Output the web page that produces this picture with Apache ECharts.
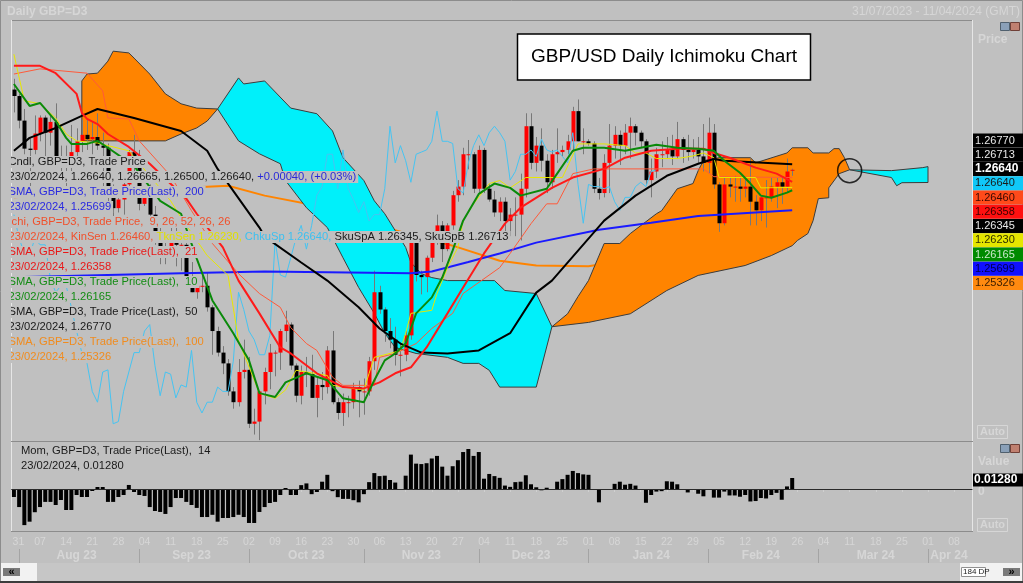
<!DOCTYPE html>
<html><head><meta charset="utf-8">
<script src="https://cdn.jsdelivr.net/npm/echarts/dist/echarts.min.js"></script>
<style>html,body{margin:0;padding:0;background:#c0c0c0;overflow:hidden}#c{width:1023px;height:583px}</style>
</head><body><div id="c"></div><script>
// ---------------- DATA ----------------
const openP = [1.2850,1.2835,1.2778,1.2713,1.2710, 1.2748,1.2785,1.2750,1.2775,1.2693, 1.2690,1.2685,1.2705,1.2730,1.2745, 1.2735,1.2740,1.2720,1.2715,1.2600,
 1.2575,1.2595,1.2630,1.2705,1.2670, 1.2585,1.2625,1.2560,1.2505,1.2470, 1.2465,1.2505,1.2490,1.2490,1.2410, 1.2380,1.2395,1.2395,1.2345,1.2290,
 1.2240,1.2215,1.2150,1.2125,1.2195, 1.2200,1.2075,1.2080,1.2150,1.2195, 1.2240,1.2240,1.2290,1.2305,1.2210, 1.2140,1.2195,1.2190,1.2135,1.2165,
 1.2160,1.2245,1.2125,1.2100,1.2125, 1.2125,1.2160,1.2150,1.2150,1.2220, 1.2380,1.2340,1.2290,1.2270,1.2235, 1.2235,1.2280,1.2500,1.2420,1.2415,
 1.2460,1.2505,1.2535,1.2480,1.2535, 1.2605,1.2625,1.2700,1.2700,1.2620, 1.2710,1.2620,1.2595,1.2565,1.2590, 1.2545,1.2560,1.2560,1.2620,1.2765,
 1.2680,1.2720,1.2685,1.2635,1.2700, 1.2705,1.2710,1.2730,1.2800,1.2730, 1.2730,1.2725,1.2620,1.2610,1.2680, 1.2720,1.2745,1.2720,1.2750,1.2765,
 1.2750,1.2730,1.2640,1.2660,1.2700, 1.2700,1.2710,1.2695,1.2735,1.2710, 1.2705,1.2710,1.2695,1.2680,1.2750, 1.2630,1.2540,1.2630,1.2625,1.2625,
 1.2620,1.2625,1.2590,1.2570,1.2600, 1.2600,1.2625,1.2635,1.2625,1.2664];
const highP = [1.2875,1.2840,1.2805,1.2738,1.2790, 1.2790,1.2790,1.2790,1.2818,1.2720, 1.2720,1.2768,1.2760,1.2780,1.2780, 1.2775,1.2795,1.2750,1.2725,1.2630,
 1.2605,1.2650,1.2710,1.2745,1.2710, 1.2625,1.2630,1.2580,1.2530,1.2495, 1.2535,1.2545,1.2505,1.2500,1.2450, 1.2410,1.2425,1.2425,1.2350,1.2300,
 1.2255,1.2225,1.2160,1.2225,1.2270, 1.2230,1.2110,1.2150,1.2205,1.2260, 1.2245,1.2295,1.2337,1.2310,1.2215, 1.2210,1.2230,1.2235,1.2185,1.2195,
 1.2255,1.2290,1.2135,1.2145,1.2140, 1.2170,1.2175,1.2180,1.2230,1.2430, 1.2395,1.2345,1.2320,1.2300,1.2260, 1.2290,1.2505,1.2505,1.2430,1.2465,
 1.2510,1.2560,1.2545,1.2540,1.2615, 1.2640,1.2715,1.2733,1.2705,1.2720, 1.2715,1.2630,1.2615,1.2600,1.2600, 1.2575,1.2600,1.2655,1.2795,1.2795,
 1.2740,1.2760,1.2700,1.2710,1.2760, 1.2720,1.2745,1.2810,1.2827,1.2760, 1.2735,1.2730,1.2645,1.2700,1.2770, 1.2765,1.2755,1.2770,1.2785,1.2770,
 1.2755,1.2735,1.2690,1.2715,1.2730, 1.2740,1.2745,1.2775,1.2740,1.2745, 1.2735,1.2740,1.2770,1.2785,1.2770, 1.2635,1.2645,1.2645,1.2650,1.2645,
 1.2645,1.2690,1.2605,1.2605,1.2640, 1.2645,1.2645,1.2645,1.2690,1.26665];
const lowP = [1.2797,1.2760,1.2700,1.2620,1.2700, 1.2730,1.2690,1.2720,1.2690,1.2660, 1.2618,1.2660,1.2690,1.2705,1.2710, 1.2700,1.2710,1.2615,1.2590,1.2548,
 1.2565,1.2560,1.2610,1.2650,1.2570, 1.2580,1.2545,1.2490,1.2445,1.2445, 1.2460,1.2440,1.2430,1.2390,1.2380, 1.2365,1.2380,1.2335,1.2235,1.2231,
 1.2190,1.2140,1.2110,1.2115,1.2180, 1.2065,1.2050,1.2037,1.2120,1.2155, 1.2185,1.2200,1.2265,1.2200,1.2125, 1.2120,1.2160,1.2135,1.2090,1.2130,
 1.2145,1.2120,1.2085,1.2070,1.2090, 1.2110,1.2090,1.2096,1.2140,1.2200, 1.2330,1.2265,1.2250,1.2210,1.2185, 1.2220,1.2270,1.2405,1.2375,1.2380,
 1.2450,1.2490,1.2450,1.2475,1.2525, 1.2590,1.2605,1.2665,1.2610,1.2610, 1.2610,1.2590,1.2555,1.2545,1.2500, 1.2510,1.2510,1.2500,1.2600,1.2665,
 1.2660,1.2660,1.2610,1.2620,1.2680, 1.2695,1.2700,1.2705,1.2730,1.2700, 1.2720,1.2610,1.2595,1.2600,1.2610, 1.2690,1.2675,1.2700,1.2690,1.2720,
 1.2715,1.2630,1.2600,1.2645,1.2670, 1.2690,1.2675,1.2690,1.2680,1.2685, 1.2690,1.2680,1.2660,1.2655,1.2620, 1.2520,1.2535,1.2600,1.2590,1.2590,
 1.2600,1.2535,1.2535,1.2545,1.2530, 1.2590,1.2575,1.2585,1.2610,1.2650];
const closeP = [1.2835,1.2778,1.2713,1.2710,1.2748, 1.2785,1.2750,1.2775,1.2693,1.2690, 1.2685,1.2705,1.2730,1.2745,1.2735, 1.2740,1.2720,1.2715,1.2600,1.2575,
 1.2595,1.2630,1.2705,1.2670,1.2585, 1.2625,1.2560,1.2505,1.2470,1.2465, 1.2505,1.2490,1.2490,1.2410,1.2380, 1.2395,1.2395,1.2345,1.2290,1.2240,
 1.2215,1.2150,1.2125,1.2195,1.2200, 1.2075,1.2080,1.2150,1.2195,1.2240, 1.2240,1.2290,1.2305,1.2210,1.2140, 1.2195,1.2190,1.2135,1.2165,1.2160,
 1.2245,1.2125,1.2100,1.2125,1.2125, 1.2160,1.2150,1.2150,1.2220,1.2380, 1.2340,1.2290,1.2270,1.2235,1.2235, 1.2280,1.2500,1.2420,1.2415,1.2460,
 1.2505,1.2535,1.2480,1.2535,1.2605, 1.2625,1.2700,1.2700,1.2620,1.2710, 1.2620,1.2595,1.2565,1.2590,1.2545, 1.2560,1.2560,1.2620,1.2765,1.2680,
 1.2720,1.2685,1.2635,1.2700,1.2705, 1.2710,1.2730,1.2800,1.2730,1.2730, 1.2725,1.2620,1.2610,1.2680,1.2720, 1.2745,1.2720,1.2750,1.2765,1.2750,
 1.2730,1.2640,1.2660,1.2700,1.2700, 1.2710,1.2695,1.2735,1.2710,1.2705, 1.2710,1.2695,1.2680,1.2750,1.2630, 1.2540,1.2630,1.2625,1.2625,1.2620,
 1.2625,1.2590,1.2570,1.2600,1.2600, 1.2625,1.2635,1.2625,1.2660,1.2664];

// indicator lines: [day index, value] vertices
const sma10 = [[0,1.2863],[3,1.2812],[5,1.2819],[8,1.2777],[10,1.2738],[11,1.2724],[14,1.2724],[16,1.2731],[18,1.2715],[23,1.2673],[28,1.2592],[32,1.2562],[35,1.2458],[38,1.2361],[42,1.2285],[45,1.2222],[47,1.2146],[50,1.2137],[52,1.2171],[56,1.2192],[60,1.2176],[63,1.2134],[67,1.2125],[69,1.2176],[71,1.2222],[73,1.2238],[75,1.2261],[77,1.2331],[80,1.2368],[82,1.2414],[84,1.2477],[86,1.2546],[89,1.2608],[92,1.2632],[95,1.2622],[97,1.2604],[102,1.2620],[104,1.2655],[107,1.2708],[109,1.2715],[113,1.2715],[117,1.2708],[120,1.2715],[123,1.2722],[127,1.2715],[131,1.2713],[134,1.2708],[136,1.2685],[139,1.2657],[141,1.2632],[143,1.2604],[145,1.2599],[148,1.2611],[149,1.26165]];
const sma21 = [[0,1.2905],[5,1.2905],[8,1.2888],[12,1.2840],[13,1.2796],[14,1.2782],[16,1.2770],[18,1.2747],[22,1.2717],[26,1.2678],[33,1.2597],[35,1.2562],[40,1.2484],[43,1.2407],[47,1.2331],[51,1.2252],[53,1.2238],[58,1.2192],[63,1.2160],[67,1.2157],[70,1.2171],[73,1.2192],[76,1.2206],[79,1.2252],[83,1.2331],[86,1.2391],[90,1.2470],[94,1.2539],[97,1.2576],[103,1.2622],[107,1.2646],[113,1.2666],[117,1.2692],[122,1.2708],[127,1.2713],[132,1.2713],[134,1.2703],[137,1.2692],[142,1.2669],[146,1.2655],[149,1.26358]];
const sma50 = [[0,1.2708],[3,1.2738],[8,1.2761],[13,1.2789],[16,1.2805],[23,1.2784],[32,1.2754],[37,1.2708],[39,1.2666],[47,1.2530],[48,1.2509],[55,1.2449],[60,1.2407],[66,1.2345],[70,1.2296],[74,1.2261],[78,1.2240],[83,1.2238],[89,1.2245],[95,1.2285],[100,1.2379],[103,1.2407],[113,1.2546],[119,1.2604],[125,1.2650],[131,1.2678],[134,1.2689],[136,1.2685],[149,1.26770]];
const sma100 = [[0,1.2600],[20,1.2615],[41,1.2627],[48,1.2604],[60,1.2576],[71,1.2530],[84,1.2488],[93,1.2453],[100,1.2442],[110,1.2440],[125,1.2470],[140,1.2515],[149,1.25326]];
const sma200 = [[0,1.2415],[32,1.2424],[48,1.2428],[76,1.2424],[80,1.2428],[87,1.2450],[93,1.2470],[100,1.2495],[112,1.2525],[122,1.2541],[131,1.2557],[149,1.25699]];
const tenkan = [[0,1.2932],[2,1.2824],[5,1.2817],[8,1.2784],[10,1.2747],[12,1.2731],[16,1.2726],[22,1.2708],[30,1.2592],[32,1.2553],[37,1.2465],[41,1.2419],[43,1.2268],[47,1.2146],[50,1.2134],[52,1.2153],[54,1.2199],[60,1.2187],[61,1.2164],[67,1.2153],[68,1.2192],[69,1.2229],[72,1.2238],[74,1.2245],[75,1.2285],[76,1.2331],[80,1.2338],[81,1.2377],[83,1.2437],[85,1.2484],[86,1.2546],[88,1.2585],[91,1.2632],[93,1.2639],[95,1.2622],[98,1.2646],[105,1.2646],[108,1.2724],[113,1.2724],[117,1.2720],[119,1.2703],[121,1.2703],[123,1.2690],[127,1.2690],[130,1.2696],[132,1.2703],[134,1.2692],[135,1.2646],[142,1.2646],[143,1.2622],[149,1.26230]];
const kijun = [[0,1.2886],[5,1.2898],[14,1.2888],[17,1.2847],[18,1.2784],[22,1.2782],[24,1.2731],[30,1.2650],[34,1.2569],[38,1.2493],[43,1.2423],[47,1.2377],[51,1.2345],[53,1.2298],[56,1.2261],[58,1.2245],[61,1.2183],[63,1.2164],[69,1.2164],[70,1.2229],[73,1.2238],[77,1.2261],[80,1.2296],[84,1.2331],[86,1.2377],[93,1.2437],[95,1.2470],[99,1.2539],[102,1.2585],[104,1.2585],[107,1.2655],[111,1.2666],[132,1.2666],[134,1.2648],[149,1.26460]];
// Ichimoku cloud pieces (Senkou spans, already shifted 26 days ahead)
const cloudOrangeAug = {top:[[13,1.2870],[14,1.2886],[16,1.2888],[18,1.2916],[19,1.2939],[22,1.2935],[23,1.2923],[26,1.2886],[29,1.2840],[32,1.2817],[35,1.2807],[39,1.2805]],
                        bottom:[[13,1.2731],[29,1.2731],[32,1.2747],[35,1.2761],[37,1.2777],[39,1.2805]]};
const cloudCyanOct = {top:[[39,1.2805],[43,1.2877],[44,1.2863],[48,1.2870],[53,1.2807],[58,1.2794],[61,1.2754],[63,1.2692],[67,1.2639],[69,1.2592],[71,1.2562],[73,1.2523],[75,1.2484],[76,1.2449],[78,1.2423],[80,1.2414],[83,1.2407],[92,1.2407],[94,1.2384],[100,1.2377],[103,1.2300]],
                      bottom:[[39,1.2805],[43,1.2731],[47,1.2701],[51,1.2678],[52,1.2639],[56,1.2576],[60,1.2530],[63,1.2460],[66,1.2391],[69,1.2331],[71,1.2285],[73,1.2252],[77,1.2238],[83,1.2229],[86,1.2215],[89,1.2215],[91,1.2199],[93,1.2160],[100,1.2160],[103,1.2300]]};
const cloudOrangeJan = {top:[[103,1.2300],[106,1.2330],[108,1.2370],[110,1.2407],[113,1.2493],[116,1.2493],[118,1.2516],[123,1.2562],[124,1.2569],[127,1.2620],[130,1.2632],[131,1.2662],[132,1.2685],[135,1.2692],[141,1.2692],[142,1.2680],[148,1.2703],[149,1.2715],[152,1.2715],[153,1.2703],[156,1.2703],[157,1.2713],[158,1.2713],[159,1.2692],[160,1.2664]],
                        bottom:[[103,1.2300],[110,1.2310],[118,1.2330],[125,1.2384],[131,1.2419],[140,1.2442],[145,1.2465],[149,1.2488],[150,1.2500],[152,1.2516],[153,1.2546],[154,1.2597],[156,1.2599],[156,1.2622],[158,1.2655],[160,1.2664]]};
const cloudCyanMar = {top:[[160,1.2664],[168,1.2662],[174,1.2669],[175,1.26713]],
                      bottom:[[160,1.2664],[168,1.2646],[169,1.2627],[170,1.2634],[175,1.26345]]};
const momentum = [-0.0093,-0.0210,-0.0420,-0.0380,-0.0270,-0.0210,-0.0150,-0.0150,-0.0186,-0.0128,
 -0.0244,-0.0244,-0.0070,-0.0093,-0.0093,-0.0023,0.0023,0.0023,-0.0150,-0.0150,
 -0.0093,-0.0070,0.0047,-0.0035,-0.0070,-0.0081,-0.0210,-0.0256,-0.0267,-0.0290,
 -0.0210,-0.0105,-0.0105,-0.0150,-0.0186,-0.0220,-0.0326,-0.0326,-0.0300,-0.0380,
 -0.0337,-0.0337,-0.0326,-0.0300,-0.0326,-0.0395,-0.0395,-0.0267,-0.0210,-0.0163,
 -0.0150,-0.0070,0.0012,-0.0070,-0.0070,0.0045,0.0065,-0.0060,-0.0035,0.0085,
 0.0165,-0.0025,-0.0095,-0.0115,-0.0115,-0.0130,-0.0155,-0.0060,0.0080,0.0185,
 0.0150,0.0155,0.0105,0.0075,-0.0010,0.0155,0.0400,0.0295,0.0290,0.0300,
 0.0355,0.0385,0.0260,0.0155,0.0265,0.0335,0.0430,0.0465,0.0385,0.0430,
 0.0120,0.0175,0.0150,0.0130,0.0040,0.0025,0.0080,0.0085,0.0160,0.0055,
 0.0020,-0.0015,0.0015,-0.0010,0.0085,0.0115,0.0165,0.0210,0.0185,0.0170,
 0.0165,0.0000,-0.0155,0.0000,0.0000,0.0060,0.0085,0.0050,0.0060,0.0040,
 0.0000,-0.0160,-0.0070,-0.0030,-0.0025,0.0090,0.0085,0.0055,-0.0010,-0.0040,
 -0.0010,-0.0055,-0.0085,0.0000,-0.0100,-0.0100,-0.0030,-0.0075,-0.0075,-0.0090,
 -0.0070,-0.0145,-0.0140,-0.0105,-0.0110,-0.0070,-0.0045,-0.0125,0.0030,0.0128];
const chikouShift = 26;
const dayTickLabels = ['31','07','14','21','28','04','11','18','25','02','09','16','23','30','06','13','20','27','04','11','18','25','01','08','15','22','29','05','12','19','26','04','11','18','25','01','08'];
const monthNames = ['Aug 23','Sep 23','Oct 23','Nov 23','Dec 23','Jan 24','Feb 24','Mar 24','Apr 24'];
const monthLabelIdx = [12,34,56,78,99,122,143,165,179];
const monthStartIdx = [1,24,45,67,89,110,133,154,175];
const crossMark = [[160,1.2662]];
const lastValueLabels = [
 ['1.26770','#000000','#e8e8e8',false],['1.26713','#000000','#e8e8e8',false],['1.26640','#000000','#ffffff',true],
 ['1.26640','#10c8f8','#1a1a1a',false],['1.26460','#ff4a1a','#3a0800',false],['1.26358','#ff1010','#3a0000',false],
 ['1.26345','#000000','#e8e8e8',false],['1.26230','#e6e600','#303000',false],['1.26165','#008a00','#c8e8c8',false],
 ['1.25699','#1010ff','#000050',false],['1.25326','#ff8a10','#402000',false]];
const legendRows = [
 [['Cndl, GBP=D3, Trade Price','#1a1a1a']],
 [['23/02/2024, 1.26640, 1.26665, 1.26500, 1.26640, ','#1a1a1a'],['+0.00040, (+0.03%)','#2a2ad8']],
 [['SMA, GBP=D3, Trade Price(Last),  200','#2a2ae0']],
 [['23/02/2024, 1.25699','#2a2ae0']],
 [['Ichi, GBP=D3, Trade Price,  9, 26, 52, 26, 26','#f0502c']],
 [['23/02/2024, KinSen 1.26460, ','#f0502c'],['TknSen 1.26230, ','#e0e000'],['ChkuSp 1.26640, ','#3cc0f0'],['SkuSpA 1.26345, SkuSpB 1.26713','#1a1a1a']],
 [['SMA, GBP=D3, Trade Price(Last),  21','#e81818']],
 [['23/02/2024, 1.26358','#e81818']],
 [['SMA, GBP=D3, Trade Price(Last),  10','#148c14']],
 [['23/02/2024, 1.26165','#148c14']],
 [['SMA, GBP=D3, Trade Price(Last),  50','#1a1a1a']],
 [['23/02/2024, 1.26770','#1a1a1a']],
 [['SMA, GBP=D3, Trade Price(Last),  100','#f08c20']],
 [['23/02/2024, 1.25326','#f08c20']]];

// ---------------- BUILD ----------------
const NCAT = 184;
const cats = [];
{ const d = new Date(Date.UTC(2023,6,31));
  while (cats.length < NCAT) { const w = d.getUTCDay(); if (w !== 0 && w !== 6) cats.push(d.toISOString().slice(0,10)); d.setUTCDate(d.getUTCDate()+1); } }
const candleData = openP.map((o,i) => [i, o, closeP[i], lowP[i], highP[i]]);
const chikou = closeP.map((c,i) => [i - chikouShift, c]).filter(p => p[0] >= 0);
const clouds = [[cloudOrangeAug,'#ff8400'],[cloudCyanOct,'#00f0fa'],[cloudOrangeJan,'#ff8400'],[cloudCyanMar,'#00f0fa']];
const BG = '#c0c0c0', FAINT = '#d6d6d6', FONT = '"Liberation Sans", Arial, sans-serif';
const GL = 11.3, GR = 1023 - 972.4;

function lineSeries(name, data, color, width, z) {
  return {name, type:'line', xAxisIndex:0, yAxisIndex:0, data, symbol:'none', silent:true, z,
    lineStyle:{color, width}, animation:false};
}
const series = [
  lineSeries('SMA100', sma100, '#ff8400', 2, 1),
  {type:'custom', xAxisIndex:0, yAxisIndex:0, z:2, silent:true, animation:false,
   data: clouds.map((c,k) => [k]),
   renderItem: (params, api) => {
     const c = clouds[params.dataIndex];
     const pts = c[0].top.concat(c[0].bottom.slice().reverse()).map(v => api.coord(v));
     return {type:'polygon', shape:{points:pts}, style:{fill:c[1], stroke:'#3c3c3c', lineWidth:1}};
   }},
  {type:'custom', xAxisIndex:0, yAxisIndex:0, z:3, silent:true, animation:false,
   data: candleData, encode:{x:0, y:[1,2,3,4]},
   renderItem: (params, api) => {
     const i = api.value(0), o = api.value(1), c = api.value(2), l = api.value(3), h = api.value(4);
     const pO = api.coord([i,o]), pC = api.coord([i,c]), pL = api.coord([i,l]), pH = api.coord([i,h]);
     const cx = Math.round(pO[0]);
     const top = Math.min(pO[1], pC[1]), bot = Math.max(pO[1], pC[1]);
     return {type:'group', children:[
       {type:'line', shape:{x1:cx+0.5, y1:pH[1], x2:cx+0.5, y2:pL[1]}, style:{stroke:'#787878', lineWidth:1}},
       {type:'rect', shape:{x:cx-1.5, y:top, width:4, height:Math.max(1, bot-top)}, style:{fill: c >= o ? '#ff0000' : '#000000'}}
     ]};
   }},
  lineSeries('Chikou', chikou, '#46c4f2', 1, 4),
  lineSeries('SMA200', sma200, '#1a1aff', 2, 5),
  lineSeries('Kijun', kijun, '#ff5a3a', 1, 5),
  lineSeries('Tenkan', tenkan, '#e8e800', 1, 5),
  lineSeries('SMA50', sma50, '#000000', 2, 6),
  lineSeries('SMA21', sma21, '#ff1a1a', 2, 6),
  lineSeries('SMA10', sma10, '#0a8a0a', 2, 7),
  {type:'scatter', xAxisIndex:0, yAxisIndex:0, data:crossMark, symbol:'circle', symbolSize:24, z:8, silent:true, animation:false,
   itemStyle:{color:'rgba(0,0,0,0)', borderColor:'#000', borderWidth:1.5}},
  {type:'bar', xAxisIndex:1, yAxisIndex:1, data:momentum, barWidth:4, silent:true, animation:false,
   itemStyle:{color:'#000'},
   markLine:{silent:true, symbol:'none', animation:false, label:{show:false}, data:[{yAxis:0}], lineStyle:{color:'#2a2a2a', width:1, type:'solid'}}}
];

// graphics: frame, header, legend, value labels, title
const G = [];
G.push({type:'rect', z:0, shape:{x:0.5,y:0.5,width:1022,height:582}, style:{fill:'none', stroke:'#8c8c8c'}});
G.push({type:'line', z:0, shape:{x1:11,y1:20.5,x2:973,y2:20.5}, style:{stroke:'#8c8c8c'}});
G.push({type:'line', z:0, shape:{x1:11.5,y1:20,x2:11.5,y2:532}, style:{stroke:'#e6e6e6'}});
G.push({type:'line', z:0, shape:{x1:972.5,y1:20,x2:972.5,y2:532}, style:{stroke:'#e6e6e6'}});
G.push({type:'line', z:0, shape:{x1:11,y1:441.5,x2:973,y2:441.5}, style:{stroke:'#8c8c8c'}});
G.push({type:'line', z:0, shape:{x1:11,y1:531.5,x2:973,y2:531.5}, style:{stroke:'#8c8c8c'}});
G.push({type:'text', z:50, x:7, y:12, style:{text:'Daily GBP=D3', font:'bold 12px '+FONT, fill:FAINT, textVerticalAlign:'middle', verticalAlign:'middle'}});
G.push({type:'text', z:50, x:1020, y:12, style:{text:'31/07/2023 - 11/04/2024 (GMT)', font:'12px '+FONT, fill:FAINT, textAlign:'right', align:'right', textVerticalAlign:'middle', verticalAlign:'middle'}});
G.push({type:'text', z:50, x:978, y:40, style:{text:'Price', font:'bold 12px '+FONT, fill:FAINT, textVerticalAlign:'middle', verticalAlign:'middle'}});
G.push({type:'text', z:50, x:978, y:462, style:{text:'Value', font:'bold 12px '+FONT, fill:FAINT, textVerticalAlign:'middle', verticalAlign:'middle'}});
G.push({type:'text', z:50, x:978, y:492, style:{text:'0', font:'bold 12px '+FONT, fill:FAINT, textVerticalAlign:'middle', verticalAlign:'middle'}});
G.push({type:'rect', z:50, shape:{x:977.5,y:518.5,width:30,height:13}, style:{fill:'none', stroke:FAINT}});
G.push({type:'text', z:50, x:980, y:525, style:{text:'Auto', font:'bold 11px '+FONT, fill:FAINT, textVerticalAlign:'middle', verticalAlign:'middle'}});
G.push({type:'rect', z:50, shape:{x:977.5,y:425.5,width:30,height:13}, style:{fill:'none', stroke:FAINT}});
G.push({type:'text', z:50, x:980, y:432, style:{text:'Auto', font:'bold 11px '+FONT, fill:FAINT, textVerticalAlign:'middle', verticalAlign:'middle'}});
[[22],[444]].forEach(([yy]) => {
  G.push({type:'rect', z:50, shape:{x:1000.5,y:yy+0.5,width:9,height:8}, style:{fill:'#8aa0b8', stroke:'#50606e'}});
  G.push({type:'rect', z:50, shape:{x:1010.5,y:yy+0.5,width:9,height:8}, style:{fill:'#c08070', stroke:'#704038'}});
});
G.push({type:'rect', z:0, shape:{x:1,y:563,width:1021,height:18}, style:{fill:'#c6c6c6'}});
G.push({type:'rect', z:1, shape:{x:1,y:563,width:36,height:18}, style:{fill:'#f2f2f2'}});
G.push({type:'rect', z:1, shape:{x:960,y:563,width:62,height:18}, style:{fill:'#f2f2f2'}});
G.push({type:'rect', z:2, shape:{x:3,y:568,width:17,height:8}, style:{fill:'#7a7a7a'}});
G.push({type:'text', z:3, x:11.5, y:572, style:{text:'«', font:'bold 11px '+FONT, fill:'#000', textAlign:'center', align:'center', textVerticalAlign:'middle', verticalAlign:'middle'}});
G.push({type:'rect', z:2, shape:{x:1003,y:568,width:17,height:8}, style:{fill:'#7a7a7a'}});
G.push({type:'text', z:3, x:1011.5, y:572, style:{text:'»', font:'bold 11px '+FONT, fill:'#000', textAlign:'center', align:'center', textVerticalAlign:'middle', verticalAlign:'middle'}});
G.push({type:'rect', z:2, shape:{x:961.5,y:567.5,width:24,height:9}, style:{fill:'#ffffff', stroke:'#909090'}});
G.push({type:'text', z:3, x:963, y:572, style:{text:'184 DP', font:'8px '+FONT, fill:'#202020', textVerticalAlign:'middle', verticalAlign:'middle'}});
G.push({type:'rect', z:0, shape:{x:0,y:581,width:1023,height:2}, style:{fill:'#3c3c3c'}});
function richRow(segs, x, y) {
  const rich = {}; let text = '';
  segs.forEach((s,k) => { rich['s'+k] = {fill:s[1], color:s[1], font:'11.2px '+FONT, fontSize:11.2, fontFamily:FONT}; text += '{s'+k+'|'+s[0]+'}'; });
  return {type:'text', z:60, x, y, style:{text, rich, font:'11.2px '+FONT, backgroundColor:BG, padding:[0,2,0,0], lineHeight:12, textVerticalAlign:'middle', verticalAlign:'middle'}};
}
legendRows.forEach((r,k) => G.push(richRow(r, 8.5, 162 + 15*k)));
G.push(richRow([['Mom, GBP=D3, Trade Price(Last),  14','#1a1a1a']], 21, 451));
G.push(richRow([['23/02/2024, 0.01280','#1a1a1a']], 21, 466));
G.push({type:'rect', z:61, shape:{x:1,y:150,width:10,height:220}, style:{fill:BG}});
lastValueLabels.forEach((l,k) => {
  const yc = 140.5 + 14.25*k;
  G.push({type:'rect', z:60, shape:{x:973,y:yc-7,width:50,height:14}, style:{fill:l[1]}});
  G.push({type:'text', z:61, x:975, y:yc, style:{text:l[0], font:(l[3]?'bold 12px ':'11px ')+FONT, fill:l[2], textVerticalAlign:'middle', verticalAlign:'middle'}});
});
G.push({type:'rect', z:60, shape:{x:973,y:473.5,width:50,height:13}, style:{fill:'#000'}});
G.push({type:'text', z:61, x:974, y:480, style:{text:'0.01280', font:'bold 12px '+FONT, fill:'#ffffff', textVerticalAlign:'middle', verticalAlign:'middle'}});
G.push({type:'rect', z:70, shape:{x:517.5,y:34,width:293,height:46}, style:{fill:'#ffffff', stroke:'#000000', lineWidth:1.5}});
G.push({type:'text', z:71, x:664, y:57, style:{text:'GBP/USD Daily Ichimoku Chart', font:'19px '+FONT, fill:'#000', textAlign:'center', align:'center', textVerticalAlign:'middle', verticalAlign:'middle'}});

const option = {
  backgroundColor: BG,
  animation:false,
  grid:[{left:GL, right:GR, top:21, height:420},{left:GL, right:GR, top:443, height:89}],
  xAxis:[
    {gridIndex:0, type:'category', data:cats, boundaryGap:true, show:false},
    {gridIndex:1, type:'category', data:cats, boundaryGap:true,
     axisLine:{show:false}, splitLine:{show:false},
     axisTick:{show:true, alignWithLabel:true, interval:(i)=> i%5===0, length:3, lineStyle:{color:'#d0d0d0'}},
     axisLabel:{interval:(i)=> i%5===0, formatter:(v,i)=> i===0 ? '{f|'+dayTickLabels[0]+'}' : (dayTickLabels[i/5] || ''),
       rich:{f:{padding:[0,0,0,9], color:FAINT, fontSize:10.5, fontFamily:FONT}}, color:FAINT, fontSize:10.5, fontFamily:FONT, margin:5}},
    {gridIndex:1, type:'category', data:cats, boundaryGap:true, position:'bottom', offset:17,
     axisLine:{show:false}, splitLine:{show:false},
     axisTick:{show:true, alignWithLabel:true, interval:(i)=> monthStartIdx.includes(i), length:14, lineStyle:{color:'#a4a4a4'}},
     axisLabel:{interval:(i)=> monthLabelIdx.includes(i), formatter:(v,i)=> monthNames[monthLabelIdx.indexOf(i)] || '', color:FAINT, fontSize:12, fontWeight:'bold', fontFamily:FONT, margin:1}}
  ],
  yAxis:[
    {gridIndex:0, type:'value', min:1.2035, max:1.3009, show:false},
    {gridIndex:1, type:'value', min:-0.0500, max:0.0535, show:false}
  ],
  series,
  graphic:{elements:G}
};
const chart = echarts.init(document.getElementById('c'), null, {renderer:'canvas'});
chart.setOption(option);
</script></body></html>
